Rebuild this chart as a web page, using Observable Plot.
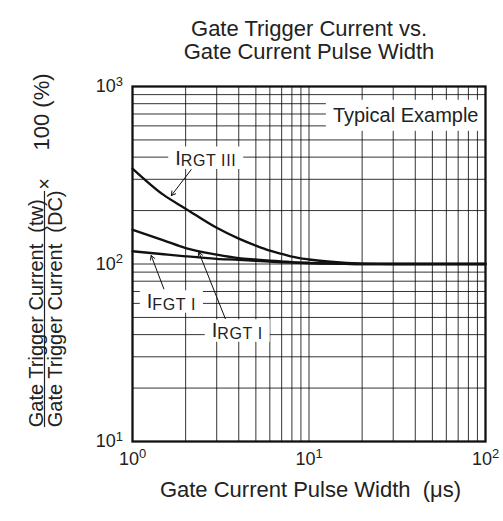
<!DOCTYPE html>
<html><head><meta charset="utf-8">
<script src="https://cdn.jsdelivr.net/npm/d3@7"></script>
<script src="https://cdn.jsdelivr.net/npm/@observablehq/plot@0.6"></script>
<style>html,body{margin:0;padding:0;background:#fff;} svg{display:block}</style>
</head><body><div id="chart"></div>
<script>
// ---- data ----
const pulseWidth = [1, 1.5, 2, 3, 4, 5, 6, 7, 8, 10, 15, 20, 30, 50, 100];
const irgtIII = [345, 245, 205, 160, 139, 127, 119, 114, 110, 106, 102, 100.5, 100, 100, 100];
const irgtI   = [156, 136, 123, 113, 108, 106, 104.5, 103.5, 102.5, 101.5, 100.5, 100, 100, 100, 100];
const ifgtI   = [118, 113.5, 110.5, 107, 105.5, 104, 103, 102.3, 101.8, 101, 100.3, 100, 100, 100, 100];
const seriesNames = ["IRGT III", "IRGT I", "IFGT I"];
const seriesValues = [irgtIII, irgtI, ifgtI];

const xTicks = [1, 10, 100];
const yTicks = [10, 100, 1000];
const xGrid = [2, 3, 4, 5, 6, 7, 8, 9, 10, 20, 30, 40, 50, 60, 70, 80, 90];
const yGrid = [20, 30, 40, 50, 60, 70, 80, 90, 100, 200, 300, 400, 500, 600, 700, 800, 900];

const labelText = ["IRGT III", "IFGT I", "IRGT I"];
const labelX = [2.6, 1.66, 3.92];
const labelY = [395, 61.2, 42.0];
const arrowX1 = [2.15, 1.505, 3.36];
const arrowY1 = [340, 72.5, 49.1];
const arrowX2 = [1.66, 1.276, 2.376];
const arrowY2 = [243, 111.6, 116.5];

const titleLines = ["Gate Trigger Current vs.", "Gate Current Pulse Width"];
const xLabel = "Gate Current Pulse Width\u00a0 (\u03bcs)";
const yNumerator = "Gate Trigger Current\u00a0 (tw)";
const yDenominator = "Gate Trigger Current\u00a0 (DC)";
const yTimes = "\u00d7";
const yPercent = "100 (%)";
const note = "Typical Example";

// ---- tables built from the arrays ----
const lineData = seriesNames.flatMap((s, k) => pulseWidth.map((x, i) => ({series: s, x, y: seriesValues[k][i]})));
const labelData = labelText.map((t, i) => ({t, x: labelX[i], y: labelY[i]}));
const arrowData = arrowX1.map((_, i) => ({x1: arrowX1[i], y1: arrowY1[i], x2: arrowX2[i], y2: arrowY2[i]}));
const sup = d => "10^" + Math.round(Math.log10(d));

const font = "'Liberation Sans', Arial, Helvetica, sans-serif";

const chart = Plot.plot({
  width: 503, height: 521,
  marginTop: 86, marginRight: 18, marginBottom: 80, marginLeft: 132,
  style: {fontFamily: font, background: "#fff", color: "#000"},
  x: {type: "log", domain: [1, 100]},
  y: {type: "log", domain: [10, 1000]},
  marks: [
    Plot.gridX(xGrid, {stroke: "#000", strokeOpacity: 0.8, strokeWidth: 1}),
    Plot.gridY(yGrid, {stroke: "#000", strokeOpacity: 0.8, strokeWidth: 1}),
    Plot.line(lineData, {x: "x", y: "y", z: "series", curve: "monotone-x", stroke: "#111", strokeWidth: 2.3}),
    Plot.arrow(arrowData, {x1: "x1", y1: "y1", x2: "x2", y2: "y2", stroke: "#111", strokeWidth: 1, headLength: 7}),
    Plot.text(labelData, {x: "x", y: "y", text: "t", fontSize: 20, fill: "#222"}),
    Plot.text([note], {frameAnchor: "top-right", textAnchor: "end", dx: -7, dy: 21.6, fontSize: 20, fill: "#222"}),
    Plot.axisX(xTicks, {tickSize: 0, tickPadding: 10.5, fontSize: 18, tickFormat: sup, label: null, fill: "#222"}),
    Plot.axisY(yTicks, {tickSize: 0, tickPadding: 9.5, fontSize: 18, tickFormat: sup, label: null, fill: "#222"}),
    Plot.text([titleLines[0]], {frameAnchor: "top", dy: -66, fontSize: 22, fill: "#222"}),
    Plot.text([titleLines[1]], {frameAnchor: "top", dy: -42.7, fontSize: 22, fill: "#222"}),
    Plot.text([xLabel], {frameAnchor: "bottom", dx: 1.5, dy: 55.3, fontSize: 22, fill: "#222"}),
    Plot.text([yNumerator], {frameAnchor: "left", rotate: -90, textAnchor: "start", dx: -96, dy: 163.2, fontSize: 20, fill: "#222"}),
    Plot.text([yDenominator], {frameAnchor: "left", rotate: -90, textAnchor: "start", dx: -77.4, dy: 163.2, fontSize: 20, fill: "#222"}),
    Plot.text([yTimes], {frameAnchor: "left", rotate: -90, textAnchor: "middle", dx: -88.4, dy: -80, fontSize: 20, fill: "#222"}),
    Plot.text([yPercent], {frameAnchor: "left", rotate: -90, textAnchor: "start", dx: -90.5, dy: -113.5, fontSize: 22, fill: "#222"}),
    Plot.frame({stroke: "#111", strokeWidth: 2.3})
  ]
});
document.getElementById("chart").append(chart);

const svg = d3.select(chart);
// superscript exponents on tick labels
svg.selectAll('g[aria-label="x-axis tick label"] text, g[aria-label="y-axis tick label"] text').each(function () {
  const t = d3.select(this);
  const [b, e] = t.text().split("^");
  t.text(null);
  t.append("tspan").attr("font-size", 18).text(b);
  t.append("tspan").attr("font-size", 13).attr("dy", -6.5).text(e);
});
const allText = svg.selectAll("text").nodes();
const curveLabelNodes = allText.filter(n => labelText.includes(n.textContent));
const noteNodes = allText.filter(n => n.textContent === note);
// lowered, smaller suffix on curve labels
curveLabelNodes.forEach(node => {
  const t = d3.select(node);
  const s = t.text();
  t.text(null);
  t.append("tspan").attr("font-size", 20).text(s[0]);
  t.append("tspan").attr("font-size", 16).attr("dy", 1.5).attr("letter-spacing", 0.6).text(s.slice(1));
});
// white boxes behind labels
function boxes(nodes, px, py) {
  nodes.forEach(node => {
    const bb = node.getBBox();
    const r = document.createElementNS("http://www.w3.org/2000/svg", "rect");
    r.setAttribute("x", bb.x - px);
    r.setAttribute("y", bb.y - py);
    r.setAttribute("width", bb.width + 2 * px);
    r.setAttribute("height", bb.height + 2 * py);
    r.setAttribute("fill", "#fff");
    r.setAttribute("stroke", "none");
    const tr = node.getAttribute("transform");
    if (tr) r.setAttribute("transform", tr);
    node.parentNode.insertBefore(r, node);
  });
}
boxes(curveLabelNodes, 7, 0);
boxes(noteNodes, 7, 4.5);
// fraction bar of the y label
svg.append("line").attr("x1", 44.5).attr("x2", 44.5).attr("y1", 427).attr("y2", 191)
  .attr("stroke", "#222").attr("stroke-width", 1.2);
</script>
</body></html>
